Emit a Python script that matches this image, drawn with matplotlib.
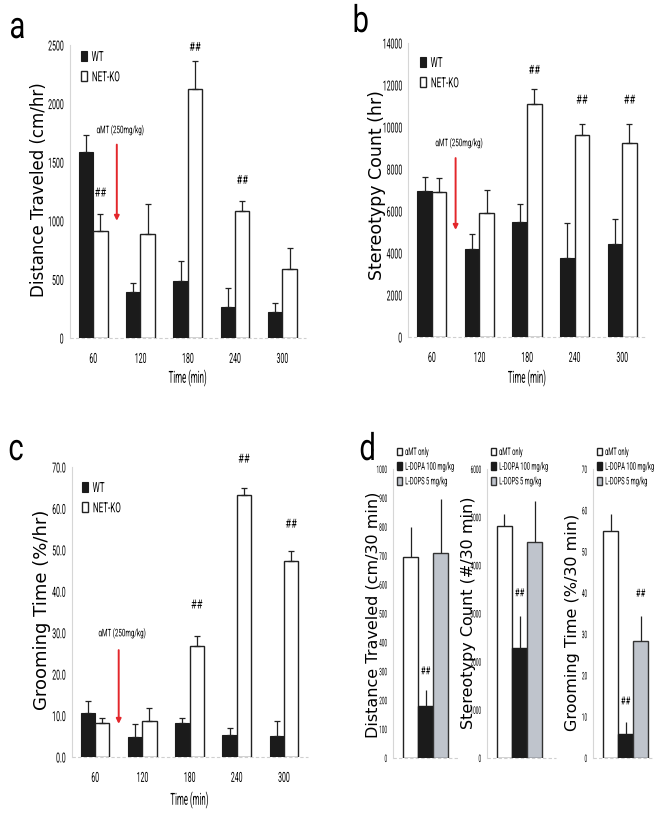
import matplotlib
matplotlib.use("Agg")
import matplotlib.pyplot as plt
from matplotlib.font_manager import FontProperties
from matplotlib.patheffects import AbstractPathEffect
from matplotlib.transforms import Affine2D

# ---------------- data ----------------
times = ["60", "120", "180", "240", "300"]
series_names = ["WT", "NET-KO"]

dist_wt = [1590, 390, 485, 268, 225]
dist_wt_err = [140, 80, 168, 158, 72]
dist_ko = [910, 890, 2125, 1080, 588]
dist_ko_err = [148, 252, 235, 90, 176]

stereo_wt = [6970, 4170, 5490, 3770, 4420]
stereo_wt_err = [665, 730, 840, 1670, 1195]
stereo_ko = [6905, 5890, 11090, 9610, 9230]
stereo_ko_err = [650, 1110, 715, 540, 905]

groom_wt = [10.6, 4.8, 8.3, 5.3, 5.0]
groom_wt_err = [2.8, 3.2, 1.1, 1.7, 3.6]
groom_ko = [8.2, 8.8, 26.7, 63.3, 47.2]
groom_ko_err = [1.3, 3.0, 2.5, 1.6, 2.5]

d_groups = ["\u03b1MT only", "L-DOPA 100 mg/kg", "L-DOPS 5 mg/kg"]
d_dist = [697, 180, 710]
d_dist_err = [103, 57, 185]
d_stereo = [4815, 2275, 4485]
d_stereo_err = [255, 670, 845]
d_groom = [54.9, 5.9, 28.4]
d_groom_err = [4.1, 2.8, 6.0]

# ---------------- fonts ----------------
NARROW = "Roboto"
WIDE = "DejaVu Sans"


class Squeeze(AbstractPathEffect):
    """Horizontally condense text glyphs about an anchor (0=left, .5=centre, 1=right)."""

    def __init__(self, sx=0.5, anchor=0.0):
        super().__init__()
        self.sx = sx
        self.anchor = anchor

    def draw_path(self, renderer, gc, tpath, affine, rgbFace=None):
        ext = tpath.get_extents()
        p = ext.x0 + self.anchor * ext.width
        t = Affine2D().translate(-p, 0).scale(self.sx, 1).translate(p, 0) + affine
        renderer.draw_path(gc, tpath, t, rgbFace)


def nfp(size):
    return FontProperties(family=NARROW, size=size)


W, H = 659, 815
fig = plt.figure(figsize=(W / 100, H / 100), dpi=100)


def fx(px):
    return px / W


def fy(py):
    return 1 - py / H


def make_ax(left, right, top, bottom):
    return fig.add_axes([fx(left), fy(bottom), (right - left) / W, (bottom - top) / H])


BLACK = "#1b1b1b"
GRAY = "#bfc4cc"
RED = "#e3262b"


def style_ax(ax):
    for s in ["top", "right", "bottom"]:
        ax.spines[s].set_visible(False)
    ax.spines["left"].set_color("#d6d6d6")
    ax.spines["left"].set_linewidth(0.8)
    ax.axhline(0, color="#cfcfcf", lw=0.8, ls=(0, (3, 2)), zorder=0, clip_on=False)
    ax.tick_params(axis="both", length=0)


def time_panel(ax, wt, wt_err, ko, ko_err, ymax, ystep, fmt, ylabel, ylab_px, ylab_size,
               hash_idx, hash_y, arrow_top, arrow_bot, note_y, legend_px, xlab_y, axl, axr):
    x = list(range(len(times)))
    bw = 0.305
    xw = [i - bw / 2 for i in x]
    xk = [i + bw / 2 for i in x]
    ax.bar(xw, wt, bw, color=BLACK, edgecolor=BLACK, lw=0.8, label=series_names[0], zorder=2)
    ax.bar(xk, ko, bw, color="white", edgecolor="#222222", lw=1.0, label=series_names[1], zorder=2)
    ax.errorbar(xw, wt, yerr=[[0] * len(wt), wt_err], fmt="none", ecolor="#222222",
                elinewidth=0.9, capsize=2.2, capthick=0.9, zorder=3)
    ax.errorbar(xk, ko, yerr=[[0] * len(ko), ko_err], fmt="none", ecolor="#222222",
                elinewidth=0.9, capsize=2.2, capthick=0.9, zorder=3)
    ax.set_xlim(-0.5, 4.5)
    ax.set_ylim(0, ymax)
    ticks = [i * ystep for i in range(int(round(ymax / ystep)) + 1)]
    ax.set_yticks(ticks)
    ax.set_yticklabels([fmt.format(t) for t in ticks], fontproperties=nfp(10),
                       path_effects=[Squeeze(0.5, 1.0)])
    ax.set_xticks(x)
    ax.set_xticklabels(times, fontproperties=nfp(10), path_effects=[Squeeze(0.5, 0.5)])
    style_ax(ax)
    ax.tick_params(axis="x", pad=10)
    ax.tick_params(axis="y", pad=4)
    ax.set_xlabel("Time (min)", fontproperties=nfp(12), va="center",
                  path_effects=[Squeeze(0.47, 0.5)])
    ax.xaxis.set_label_coords(fx((axl + axr) / 2), fy(xlab_y), transform=fig.transFigure)
    ax.set_ylabel(ylabel, fontfamily=WIDE, fontsize=ylab_size, va="center")
    ax.yaxis.set_label_coords(fx(ylab_px[0]), fy(ylab_px[1]), transform=fig.transFigure)
    for i, hy in zip(hash_idx, hash_y):
        ax.text(xk[i], hy, "##", ha="center", va="center", fontproperties=nfp(9),
                clip_on=False, path_effects=[Squeeze(0.75, 0.5)])
    ax.annotate("", xy=(0.5, arrow_bot), xytext=(0.5, arrow_top),
                arrowprops=dict(arrowstyle="-|>", color=RED, lw=1.4,
                                mutation_scale=7, shrinkA=0, shrinkB=0))
    ax.text(0.57, note_y, "\u03b1MT (250mg/kg)", ha="center", va="center",
            fontproperties=nfp(7.5), path_effects=[Squeeze(0.6, 0.5)])
    leg = ax.legend(loc="upper left", bbox_to_anchor=(fx(legend_px[0]), fy(legend_px[1])),
                    bbox_transform=fig.transFigure, frameon=False, prop=nfp(10),
                    handlelength=0.45, handleheight=0.75, handletextpad=0.3,
                    labelspacing=0.45, borderpad=0, borderaxespad=0)
    for t in leg.get_texts():
        t.set_path_effects([Squeeze(0.58, 0.0)])


# panel a
ax_a = make_ax(69.5, 306, 45, 338)
time_panel(ax_a, dist_wt, dist_wt_err, dist_ko, dist_ko_err, 2500, 500, "{:.0f}",
           "Distance Traveled (cm/hr)", (39, 190), 12, [0, 2, 3], [1237, 2480, 1345],
           1650, 1000, 1775, (81, 50), 378, 69.5, 306)

# panel b
ax_b = make_ax(408, 646, 43, 337)
time_panel(ax_b, stereo_wt, stereo_wt_err, stereo_ko, stereo_ko_err, 14000, 2000, "{:.0f}",
           "Stereotypy Count (hr)", (377, 185), 12.5, [2, 3, 4], [12700, 11280, 11280],
           8520, 5100, 9240, (420, 56), 378, 408, 646)

# panel c
ax_c = make_ax(71.5, 307.5, 467, 757)
time_panel(ax_c, groom_wt, groom_wt_err, groom_ko, groom_ko_err, 70, 10, "{:.1f}",
           "Grooming Time (%/hr)", (42, 610), 13, [2, 3, 4], [36.7, 71.9, 56.2],
           25.8, 8.0, 29.9, (82, 481), 800, 71.5, 307.5)


# panel d
def d_panel(left, right, vals, errs, ymax, ystep, ylabel, ylab_px, hash_idx, hash_y):
    ax = make_ax(left, right, 469, 758)
    n = len(vals)
    x = list(range(n))
    colors = ["white", BLACK, GRAY]
    edges = ["#222222", BLACK, "#333333"]
    for i in x:
        ax.bar(x[i], vals[i], 1.0, color=colors[i], edgecolor=edges[i], lw=1.0,
               label=d_groups[i], zorder=2)
    ax.errorbar(x, vals, yerr=[[0] * n, errs], fmt="none", ecolor="#222222",
                elinewidth=0.9, capsize=0, zorder=3)
    bar_left = left + 10
    px_per = 15.0
    ax.set_xlim(-0.5 - (bar_left - left) / px_per, -0.5 + (right - bar_left) / px_per)
    ax.set_ylim(0, ymax)
    ticks = [i * ystep for i in range(int(round(ymax / ystep)) + 1)]
    ax.set_yticks(ticks)
    ax.set_yticklabels(["{:.0f}".format(t) for t in ticks], fontproperties=nfp(7.5),
                       path_effects=[Squeeze(0.45, 1.0)])
    ax.set_xticks([])
    style_ax(ax)
    ax.tick_params(axis="y", pad=4)
    ax.set_ylabel(ylabel, fontfamily=WIDE, fontsize=11.5, va="center")
    ax.yaxis.set_label_coords(fx(ylab_px[0]), fy(ylab_px[1]), transform=fig.transFigure)
    for i, hy in zip(hash_idx, hash_y):
        ax.text(x[i], hy, "##", ha="center", va="center", fontproperties=nfp(8),
                path_effects=[Squeeze(0.7, 0.5)])
    leg = ax.legend(loc="upper left", bbox_to_anchor=(fx(left + 4), fy(447)),
                    bbox_transform=fig.transFigure, frameon=False, prop=nfp(7.5),
                    handlelength=0.5, handleheight=0.75, handletextpad=0.25,
                    labelspacing=0.45, borderpad=0, borderaxespad=0)
    for t in leg.get_texts():
        t.set_path_effects([Squeeze(0.55, 0.0)])
    return ax


d_panel(393, 458, d_dist, d_dist_err, 1000, 100, "Distance Traveled (cm/30 min)",
        (373, 615), [1], [300])
d_panel(487, 556, d_stereo, d_stereo_err, 6000, 1000, "Stereotypy Count (#/30 min)",
        (468, 613), [1], [3420])
d_panel(593, 653, d_groom, d_groom_err, 70, 10, "Grooming Time (%/30 min)",
        (572, 622), [1, 2], [13.7, 39.8])

# panel letters
for lab, px, py in [("a", 9, 38), ("b", 352, 32), ("c", 8, 460), ("d", 359, 460)]:
    fig.text(fx(px), fy(py), lab, fontproperties=nfp(27), ha="left", va="baseline",
             path_effects=[Squeeze(0.78, 0.0)])

fig.savefig("out.png", dpi=100)
